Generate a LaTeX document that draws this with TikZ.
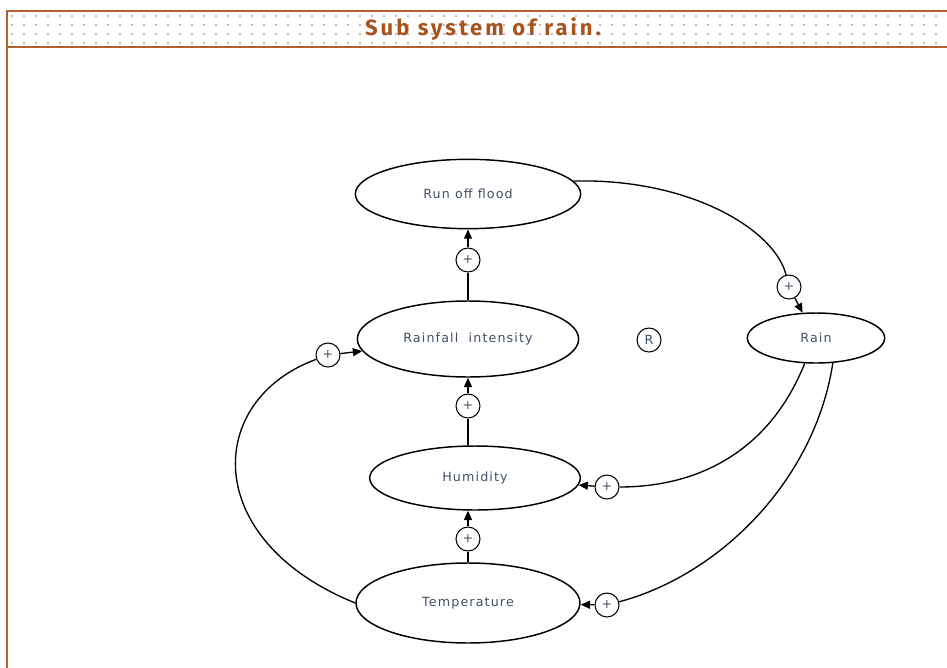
\documentclass[tikz,border=0pt]{standalone}
\usepackage{fontspec}
\setmainfont{DejaVu Sans}
\newfontfamily\labelfont[LetterSpace=9]{DejaVu Sans}
\newfontfamily\titlefont[LetterSpace=14]{Fira Sans}
\usetikzlibrary{arrows.meta,shapes.geometric}
\definecolor{framec}{RGB}{178,98,50}
\definecolor{titlec}{RGB}{168,82,28}
\definecolor{txt}{RGB}{66,80,100}
\definecolor{dotc}{RGB}{120,120,120}
\tikzset{
  ell/.style={ellipse, draw, line width=1.1pt, inner sep=0pt, text=txt,
              font=\labelfont\fontsize{9.5}{10}\selectfont},
  plus/.style={circle, draw, line width=0.8pt, minimum size=18pt, inner sep=0pt,
               text=txt, font=\fontsize{9.5}{9.5}\selectfont},
  conn/.style={line width=1pt},
  arr/.style={conn, -{Triangle[length=7pt,width=6pt]}},
  titlestyle/.style={text=titlec, font=\titlefont\bfseries\fontsize{16.5}{16.5}\selectfont}
}
\begin{document}
\begin{tikzpicture}[x=0.75pt,y=-0.75pt]
\useasboundingbox (0,0) rectangle (947,668);

% dotted header band
\foreach \yy in {16,25,34,43}
  \foreach \xx in {12,24,...,944}
    \fill[dotc] (\xx,\yy) circle (0.6pt);

% frame
\draw[framec, line width=1.5pt] (947,11) -- (7,11) -- (7,668);
\draw[framec, line width=2.2pt] (7,47) -- (947,47);

\node[titlestyle] (title) at (483,29) {Sub system of rain.};

% variables
\node[ell, minimum width=169pt, minimum height=52pt] (runoff) at (468,194) {Run off flood};
\node[ell, minimum width=166pt, minimum height=57pt] (rainfall) at (468,339) {Rainfall\ \ intensity};
\node[ell, minimum width=158pt, minimum height=48pt] (humidity) at (475,478) {Humidity};
\node[ell, minimum width=168pt, minimum height=60pt] (temperature) at (468,603) {Temperature};
\node[ell, minimum width=103pt, minimum height=37.5pt] (rain) at (816,338) {Rain};

% loop marker
\node[plus] (loop) at (649,340) {R};

% polarity markers
\node[plus] (p1) at (468,260) {+};
\node[plus] (p2) at (468,406) {+};
\node[plus] (p3) at (468,539) {+};
\node[plus] (pA) at (789,287) {+};
\node[plus] (pB) at (607,487) {+};
\node[plus] (pC) at (607,605) {+};
\node[plus] (pE) at (328,355) {+};

% vertical chain
\draw[conn] (rainfall) -- (p1);
\draw[arr] (p1) -- (runoff);
\draw[conn] (humidity.north -| p2) -- (p2);
\draw[arr] (p2) -- (rainfall);
\draw[conn] (temperature) -- (p3);
\draw[arr] (p3) -- (humidity.south -| p3);

% run off flood -> rain
\draw[conn] (runoff.7) .. controls (690,178) and (775,230) .. (pA);
\draw[arr] (pA) -- (rain);

% rain -> humidity
\draw[conn] (rain.246) .. controls (770,450) and (700,487) .. (pB);
\draw[arr] (pB) -- (humidity);

% rain -> temperature
\draw[conn] (rain.-56) .. controls (815,480) and (720,575) .. (pC);
\draw[arr] (pC) -- (temperature);

% temperature -> rainfall intensity
\draw[conn] (temperature.west) .. controls (200,540) and (205,400) .. (pE);
\draw[arr] (pE) -- (rainfall);
\end{tikzpicture}
\end{document}
